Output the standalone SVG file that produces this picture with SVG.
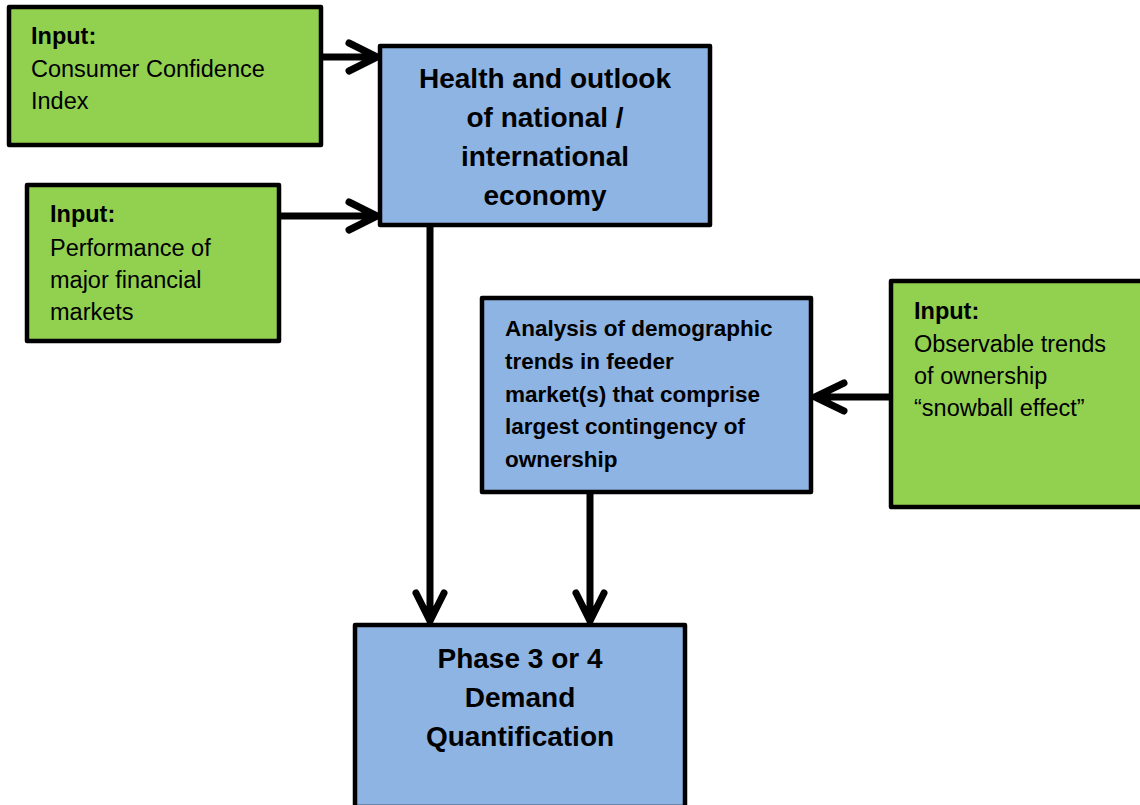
<svg xmlns="http://www.w3.org/2000/svg" width="1140" height="805" viewBox="0 0 1140 805">
<style>
.g{fill:#92D050;stroke:#000;stroke-width:4.5;stroke-linejoin:round}
.b{fill:#8EB4E3;stroke:#000;stroke-width:4.5;stroke-linejoin:round}
.t{font-family:"Liberation Sans",Arial,sans-serif;font-size:23.5px;fill:#000}
.ti{font-family:"Liberation Sans",Arial,sans-serif;font-size:23.5px;font-weight:bold;fill:#000}
.tb{font-family:"Liberation Sans",Arial,sans-serif;font-size:22.5px;font-weight:bold;fill:#000}
.h{font-family:"Liberation Sans",Arial,sans-serif;font-size:28px;font-weight:bold;fill:#000;text-anchor:middle}
.c{fill:none;stroke:#000;stroke-width:7;stroke-linecap:round;stroke-linejoin:round}
</style>
<rect width="1140" height="805" fill="#fff"/>
<g id="connectors">
<path class="c" d="M322 57H377M349 43L377 57L349 71"/>
<path class="c" d="M280 216H377M349 202L377 216L349 230"/>
<path class="c" d="M889 397H815M844 383L815 397L844 411"/>
<path class="c" d="M430 227V621M416 593L430 621L444 593"/>
<path class="c" d="M590 494V621M576 593L590 621L604 593"/>
</g>
<g id="input-cci">
<rect class="g" x="9" y="7" width="312" height="138"/>
<text class="ti" x="31" y="44">Input:</text>
<text class="t" x="31" y="77">Consumer Confidence</text>
<text class="t" x="31" y="109">Index</text>
</g>
<g id="input-markets">
<rect class="g" x="27" y="185" width="252" height="156"/>
<text class="ti" x="50" y="222">Input:</text>
<text class="t" x="50" y="256">Performance of</text>
<text class="t" x="50" y="288">major financial</text>
<text class="t" x="50" y="320">markets</text>
</g>
<g id="economy">
<rect class="b" x="380" y="46" width="330" height="179"/>
<text class="h" x="545" y="88">Health and outlook</text>
<text class="h" x="545" y="127">of national /</text>
<text class="h" x="545" y="166">international</text>
<text class="h" x="545" y="205">economy</text>
</g>
<g id="demographics">
<rect class="b" x="482" y="298" width="329" height="194"/>
<text class="tb" x="505" y="336">Analysis of demographic</text>
<text class="tb" x="505" y="369">trends in feeder</text>
<text class="tb" x="505" y="402">market(s) that comprise</text>
<text class="tb" x="505" y="434">largest contingency of</text>
<text class="tb" x="505" y="467">ownership</text>
</g>
<g id="input-ownership">
<rect class="g" x="891" y="281" width="260" height="226"/>
<text class="ti" x="914" y="319">Input:</text>
<text class="t" x="914" y="352">Observable trends</text>
<text class="t" x="914" y="384">of ownership</text>
<text class="t" x="914" y="416">“snowball effect”</text>
</g>
<g id="demand">
<rect class="b" x="355" y="625" width="330" height="182"/>
<text class="h" x="520" y="668">Phase 3 or 4</text>
<text class="h" x="520" y="707">Demand</text>
<text class="h" x="520" y="746">Quantification</text>
</g>
</svg>
